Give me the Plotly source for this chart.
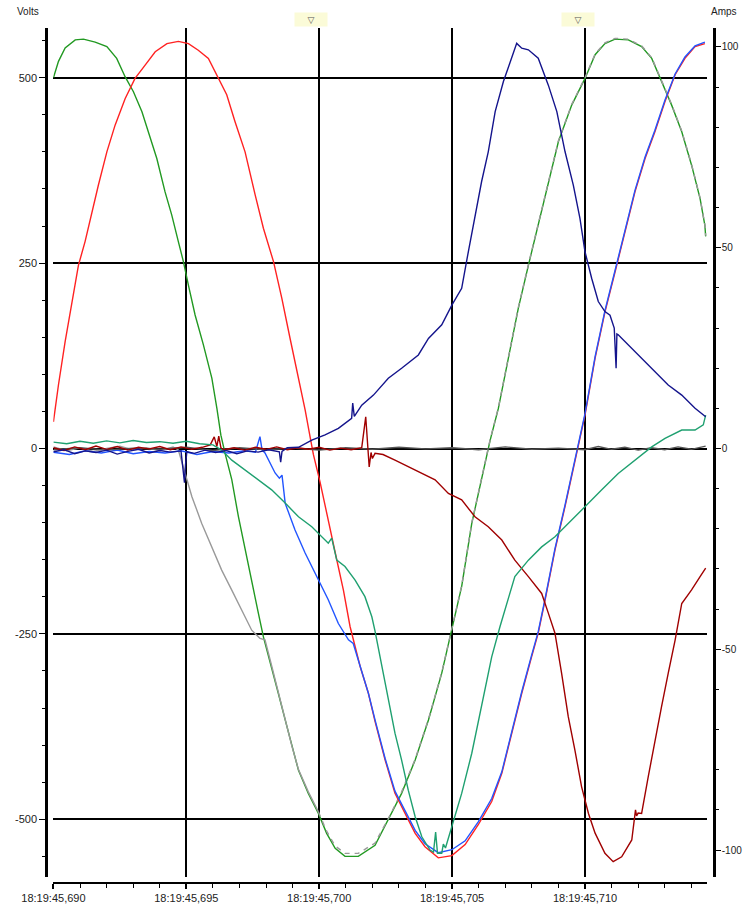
import plotly.graph_objects as go

W, H = 744, 908

# ---- axis ticks (time in ms after 18:19:45,690) ----
x_tickvals = [0, 5, 10, 15, 20]
x_ticktext = ["18:19:45,690", "18:19:45,695", "18:19:45,700", "18:19:45,705", "18:19:45,710"]
v_tickvals = [-500, -250, 0, 250, 500]
v_ticktext = ["-500", "-250", "0", "250", "500"]
a_tickvals = [-100, -50, 0, 50, 100]
a_ticktext = ["-100", "-50", "0", "50", "100"]
cursor_times = [9.70, 19.74]

# ---- voltages (V) ----
green_t = [0, 0.19, 0.44, 0.82, 1.13, 1.57, 2.01, 2.38, 2.70, 3.01, 3.33, 3.57, 3.89, 4.20, 4.45, 4.70,
           4.89, 5.08, 5.33, 5.64, 5.96, 6.15, 6.30, 6.46, 6.71, 6.96, 7.21, 7.46, 7.71, 7.90, 8.21, 8.46,
           8.72, 8.97, 9.22, 9.59, 9.97, 10.28, 10.60, 10.97, 11.47, 12.10, 12.60, 13.10, 13.61, 14.11,
           14.61, 14.99, 15.36, 15.74, 16.11, 16.43, 16.74, 17.12, 17.49, 17.87, 18.24, 18.62, 19.00,
           19.50, 20.00, 20.38, 20.75, 21.13, 21.63, 22.13, 22.51, 22.88, 23.26, 23.64, 24.01, 24.33,
           24.51, 24.54]
green_v = [500, 522, 540, 551, 552, 548, 542, 526, 501, 481, 454, 427, 391, 346, 315, 279,
           252, 220, 180, 140, 95, 54, 18, -7, -42, -92, -137, -182, -222, -254, -294, -330,
           -366, -402, -434, -465, -492, -519, -539, -550, -550, -535, -501, -465, -420, -366,
           -303, -245, -186, -101, -42, 11, 54, 122, 189, 247, 301, 355, 414,
           463, 499, 531, 546, 552, 551, 542, 526, 495, 463, 427, 382, 337,
           301, 286]

gray_t = [0, 0.5, 1.0, 1.5, 2.0, 2.5, 3.0, 3.5, 4.0, 4.5, 4.70, 4.95, 5.21, 5.58, 5.89, 6.33, 6.71,
          7.09, 7.46, 7.77, 7.96, 8.21, 8.46, 8.72, 8.97, 9.22, 9.59, 9.97, 10.28, 10.60, 10.97, 11.47,
          12.10, 12.60, 13.10, 13.61, 14.11, 14.61, 14.99, 15.36, 15.74, 16.11, 16.43, 16.74, 17.12,
          17.49, 17.87, 18.24, 18.62, 19.00, 19.50, 20.00, 20.38, 20.75, 21.13, 21.63, 22.13, 22.51,
          22.88, 23.26, 23.64, 24.01, 24.33, 24.51, 24.54]
gray_v = [2, -3, 1, -4, 0, 3, -2, 1, -3, 2, -2, -33, -65, -101, -128, -164, -191,
          -218, -245, -256, -258, -293, -329, -365, -401, -433, -463, -490, -516, -536, -546, -546,
          -532, -499, -463, -419, -365, -302, -244, -185, -100, -41, 12, 55, 123,
          190, 248, 302, 356, 415, 464, 500, 532, 547, 553, 552, 543, 527,
          496, 464, 428, 383, 338, 302, 287]
gray_join_t = 9.97   # from here on the grey trace lies on top of the green one

red_t = [0, 0.19, 0.44, 0.69, 0.94, 1.19, 1.44, 1.69, 2.01, 2.32, 2.70, 3.07, 3.45, 3.83, 4.27, 4.70,
         5.08, 5.45, 5.83, 6.15, 6.52, 6.83, 7.21, 7.59, 7.90, 8.28, 8.59, 8.90, 9.22, 9.47, 9.66, 9.78,
         10.03, 10.22, 10.47, 10.66, 10.91, 11.16, 11.35, 11.54, 11.85, 12.10, 12.48, 12.85, 13.23,
         13.61, 13.98, 14.48, 14.99, 15.49, 15.99, 16.49, 16.87, 17.24, 17.62, 17.99, 18.24, 18.50,
         18.87, 19.25, 19.62, 19.75, 20.00, 20.38, 20.75, 21.13, 21.50, 21.88, 22.26, 22.63, 23.01,
         23.39, 23.76, 24.14, 24.51]
red_v = [36, 86, 144, 198, 247, 279, 319, 355, 400, 436, 472, 499, 517, 535, 546, 549,
         546, 537, 526, 504, 477, 441, 400, 342, 297, 252, 203, 149, 95, 52, 15, -8,
         -45, -78, -119, -150, -191, -240, -267, -294, -330, -368, -420, -465, -492,
         -519, -537, -552, -549, -534, -507, -476, -438, -384, -330, -281, -249, -204,
         -137, -78, -16, 5, 45, 122, 184, 238, 292, 346, 391, 427, 468,
         504, 526, 542, 546]

blue_t = [0, 0.6, 1.2, 1.8, 2.4, 3.0, 3.6, 4.2, 4.8, 5.4, 6.0, 6.6, 7.2, 7.6, 7.77, 7.85, 7.96, 8.34,
          8.50, 8.60, 8.72, 9.09, 9.47, 9.72, 9.97, 10.34, 10.72, 11.10, 11.28, 11.54, 11.85, 12.10,
          12.48, 12.85, 13.23, 13.61, 13.98, 14.48, 14.99, 15.49, 15.99, 16.49, 16.87, 17.24, 17.62,
          17.99, 18.24, 18.50, 18.87, 19.25, 19.62, 19.75, 20.00, 20.38, 20.75, 21.13, 21.50, 21.88,
          22.26, 22.63, 23.01, 23.39, 23.76, 24.14, 24.51]
blue_v = [-5, -8, -3, -6, -2, -7, -4, -6, -3, -8, -4, -6, -3, -5, 16, -2, -6, -33,
          -40, -36, -74, -110, -141, -159, -177, -204, -236, -258, -263, -294, -330, -366,
          -418, -462, -489, -515, -533, -545, -541, -529, -503, -472, -436, -382, -328,
          -279, -247, -202, -135, -76, -14, 7, 47, 124, 186, 240, 294, 348,
          393, 429, 470, 505, 528, 543, 548]

# ---- currents (A) ----
teal_t = [0, 0.5, 1.0, 1.5, 2.0, 2.5, 3.0, 3.5, 4.0, 4.5, 5.0, 5.5, 6.0, 6.33, 6.71, 7.21, 7.71, 8.21,
          8.72, 9.22, 9.72, 10.10, 10.34, 10.47, 10.66, 10.97, 11.35, 11.72, 11.98, 12.10, 12.35, 12.60,
          12.85, 13.10, 13.35, 13.61, 13.86, 14.17, 14.30, 14.38, 14.45, 14.61, 14.67, 14.75, 14.99,
          15.36, 15.74, 16.11, 16.49, 16.80, 17.12, 17.36, 17.87, 18.37, 18.87, 19.37, 20.00, 20.63,
          21.25, 21.88, 22.51, 23.01, 23.64, 24.14, 24.45, 24.54]
teal_a = [1.6, 1.2, 1.8, 1.3, 1.9, 1.4, 2.0, 1.5, 1.7, 1.3, 1.8, 1.2, 0.9, -0.4, -2.9, -5.4, -7.8, -10.3,
          -13.6, -17.0, -19.5, -22.0, -23.6, -22.3, -27.8, -29.4, -32.8, -36.9, -41.9, -45.5, -54.3, -62.6,
          -70.9, -77.6, -85.1, -91.7, -96.7, -100.0, -100.5, -95.5, -100.8, -100.8, -98.5, -99.5, -94.2,
          -85.9, -75.9, -64.3, -51.9, -44.4, -36.9, -31.9, -27.8, -24.5, -22.0, -18.6, -14.5, -10.3,
          -6.2, -2.9, 0.4, 2.5, 4.6, 4.6, 5.9, 8.3]

navy_t = [0, 0.4, 0.8, 1.2, 1.6, 2.0, 2.4, 2.8, 3.2, 3.6, 4.0, 4.4, 4.8, 4.93, 4.97, 5.02, 5.3, 5.7,
          6.1, 6.5, 6.9, 7.3, 7.7, 8.1, 8.5, 8.55, 8.6, 8.8, 9.22, 9.72, 10.22, 10.72, 11.22, 11.26,
          11.32, 11.60, 12.04, 12.60, 13.10, 13.73, 14.11, 14.61, 14.99, 15.36, 15.61, 15.86, 16.11,
          16.36, 16.62, 16.93, 17.18, 17.43, 17.62, 17.87, 18.24, 18.62, 18.94, 19.25, 19.56, 19.81,
          20.00, 20.25, 20.50, 20.75, 20.94, 21.10, 21.17, 21.20, 21.25, 21.63, 22.13, 22.63, 23.13,
          23.64, 24.14, 24.54]
navy_a = [-0.8, -0.3, -1.3, -0.6, -1.0, -0.4, -1.4, -0.7, -0.2, -1.1, -0.5, -0.9, -0.6, -8.5, -4.0, -0.8,
          -1.2, -0.4, -1.0, -0.5, -1.3, -0.6, -0.9, -0.3, -0.8, -3.4, -0.7, 0.2, 0.3, 2.1, 3.4, 5.0,
          7.5, 11.3, 8.0, 10.8, 13.3, 17.5, 20.0, 23.3, 27.4, 30.8, 35.7, 39.9, 49.0, 58.2, 66.5,
          73.9, 83.9, 91.4, 96.3, 100.9, 99.7, 99.3, 97.2, 90.5, 83.9, 73.9, 65.6, 57.3, 49.0,
          42.4, 36.6, 34.1, 33.2, 30.0, 20.0, 28.5, 28.3, 25.8, 22.5, 19.1, 15.8, 13.3, 10.0, 7.9]

maroon_t = [0, 0.4, 0.8, 1.2, 1.6, 2.0, 2.4, 2.8, 3.2, 3.6, 4.0, 4.4, 4.8, 5.2, 5.6, 5.9, 6.05, 6.15,
            6.22, 6.3, 6.4, 6.8, 7.2, 7.6, 8.0, 8.4, 8.8, 9.2, 9.6, 10.0, 10.4, 10.8, 11.2, 11.6,
            11.75, 11.82, 11.88, 11.95, 12.00, 12.10, 12.4, 12.85, 13.35, 13.86, 14.36, 14.86, 15.36,
            15.86, 16.36, 16.87, 17.36, 17.87, 18.37, 18.62, 18.87, 19.12, 19.37, 19.62, 19.87, 20.13,
            20.38, 20.75, 21.06, 21.38, 21.76, 21.90, 21.94, 22.00, 22.13, 22.38, 22.63, 22.88, 23.13,
            23.39, 23.64, 24.01, 24.33, 24.54]
maroon_a = [0.2, -0.5, 0.4, -0.3, 0.6, -0.2, 0.5, -0.4, 0.3, -0.1, 0.5, -0.3, 0.4, -0.2, 0.3, 0.9, 2.9, 0.5,
            3.1, 0.2, -0.3, 0.2, -0.4, 0.3, -0.2, 0.4, -0.3, 0.2, -0.2, 0.3, -0.4, 0.1, -0.3, 0.2,
            7.9, 0.5, -4.6, -1.0, -2.5, -1.2, -1.5, -2.9, -4.5, -6.2, -7.8, -11.2, -12.8,
            -17.0, -19.5, -22.8, -27.8, -31.9, -36.1, -41.0, -46.0, -56.0, -66.8, -75.1, -84.2, -90.9,
            -95.8, -100.8, -102.9, -101.7, -97.5, -90.0, -91.5, -90.8, -90.9, -81.7, -72.6, -64.3, -56.0,
            -47.7, -38.6, -35.2, -31.9, -29.8]

neutral_t = [0, 1, 2, 3, 4, 5, 6, 7, 8, 9, 10, 11, 12, 13, 14, 15, 16, 17, 18, 19, 20, 20.5, 21, 21.5,
             22, 22.5, 23, 23.5, 24, 24.54]
neutral_a = [-0.3, 0.2, -0.4, 0.1, -0.2, 0.3, -0.5, 0.2, -0.3, 0.1, -0.4, 0.2, -0.2, 0.3, -0.1, 0.2,
             -0.3, 0.4, -0.2, 0.1, -0.3, 0.5, -0.2, 0.3, -0.4, 0.2, -0.3, 0.4, -0.2, 0.6]

FONT = "Liberation Sans, Arial, sans-serif"
LW = 1.4

fig = go.Figure()

def add(t, y, color, axis="y", dash="solid"):
    fig.add_trace(go.Scatter(x=t, y=y, mode="lines", yaxis=axis,
                             line=dict(color=color, width=LW, dash=dash), showlegend=False,
                             hoverinfo="skip"))

# voltages
add(green_t, green_v, "#229922")
k = next(i for i, t in enumerate(gray_t) if t >= gray_join_t)
add(gray_t[:k + 1], gray_v[:k + 1], "#9a9a9a")
add(gray_t[k:], gray_v[k:], "#9a9a9a", dash="5px,5px")
add(red_t, red_v, "#ff2222")
add(blue_t, blue_v, "#2255ff")
# currents
add(neutral_t, neutral_a, "#555555", "y2")
add(maroon_t, maroon_a, "#a00000", "y2")
add(teal_t, teal_a, "#1fa070", "y2")
add(navy_t, navy_a, "#14148c", "y2")

x0p, x1p = 53.3, 707.0
top_p, bot_p = 28.0, 877.0

fig.update_layout(
    width=W, height=H,
    margin=dict(l=0, r=0, t=0, b=0, pad=0, autoexpand=False),
    paper_bgcolor="white", plot_bgcolor="white",
    font=dict(family=FONT, size=11, color="#222222"),
    showlegend=False,
    xaxis=dict(
        domain=[x0p / W, x1p / W], range=[-0.005, 24.59], automargin=False,
        anchor="free", position=1 - 883 / H,
        tickmode="array", tickvals=x_tickvals, ticktext=x_ticktext,
        ticks="outside", ticklen=5, tickwidth=1.5, tickcolor="black",
        showline=True, linecolor="black", linewidth=2,
        showgrid=True, gridcolor="black", gridwidth=1.5, zeroline=False,
        minor=dict(tickmode="linear", tick0=0, dtick=1, ticks="outside", ticklen=4,
                   tickwidth=1.2, tickcolor="black", showgrid=False),
        tickfont=dict(size=11, color="#222222"),
    ),
    yaxis=dict(
        domain=[1 - bot_p / H, 1 - top_p / H], range=[-577.8, 567.0], automargin=False,
        anchor="free", position=46 / W, side="left",
        tickmode="array", tickvals=v_tickvals, ticktext=v_ticktext,
        ticks="outside", ticklen=6, tickwidth=1.2, tickcolor="black",
        showline=True, linecolor="black", linewidth=2.5,
        showgrid=True, gridcolor="black", gridwidth=1.5, zeroline=False,
        minor=dict(tickmode="linear", tick0=0, dtick=50, ticks="outside", ticklen=3,
                   tickwidth=1, tickcolor="black", showgrid=False),
        tickfont=dict(size=11, color="#222222"),
    ),
    yaxis2=dict(
        overlaying="y", side="right", anchor="free", position=714 / W, automargin=False,
        range=[-106.72, 104.73],
        tickmode="array", tickvals=a_tickvals, ticktext=a_ticktext,
        ticks="outside", ticklen=5, tickwidth=1.2, tickcolor="black",
        ticklabelstandoff=-1,
        showline=True, linecolor="black", linewidth=2.5,
        showgrid=False, zeroline=False,
        minor=dict(tickmode="linear", tick0=0, dtick=10, ticks="outside", ticklen=3,
                   tickwidth=1, tickcolor="black", showgrid=False),
        tickfont=dict(size=10, color="#222222"),
    ),
)

fig.add_annotation(text="Volts", xref="paper", yref="paper", x=28 / W, y=1 - 12 / H,
                   showarrow=False, xanchor="center", yanchor="middle",
                   font=dict(size=10, color="#222222", family=FONT))
fig.add_annotation(text="Amps", xref="paper", yref="paper", x=724 / W, y=1 - 12 / H,
                   showarrow=False, xanchor="center", yanchor="middle",
                   font=dict(size=10, color="#222222", family=FONT))
for ct in cursor_times:
    fig.add_annotation(text="▽", xref="x", yref="paper", x=ct, y=1 - 19.5 / H,
                       showarrow=False, xanchor="center", yanchor="middle",
                       bgcolor="#fbfbd8", width=30, height=11, borderpad=1,
                       font=dict(size=9, color="#555555", family="DejaVu Sans"))

fig.write_html("out.html")
